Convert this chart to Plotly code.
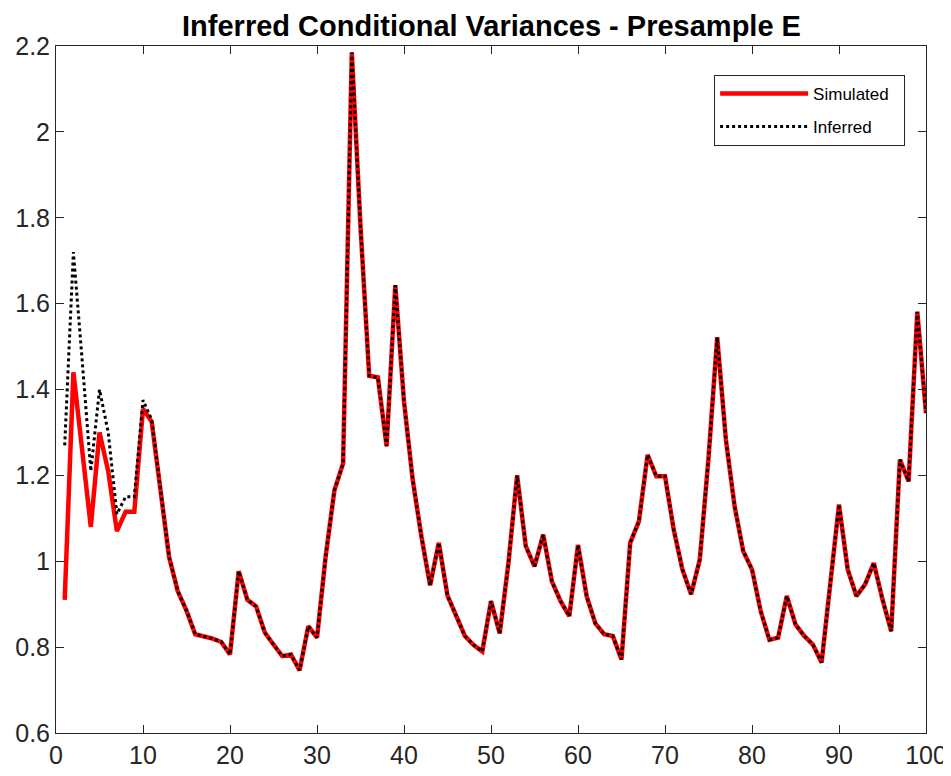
import plotly.graph_objects as go

t = list(range(1, 101))

simulated = [
    0.91, 1.44, 1.26, 1.08, 1.30, 1.21, 1.07, 1.115, 1.115, 1.355,
    1.325, 1.17, 1.01, 0.93, 0.885, 0.83, 0.825, 0.82, 0.812, 0.783,
    0.977, 0.91, 0.895, 0.834, 0.806, 0.779, 0.783, 0.746, 0.849, 0.822,
    1.012, 1.165, 1.228, 2.185, 1.78, 1.432, 1.428, 1.268, 1.643, 1.372,
    1.19, 1.058, 0.944, 1.043, 0.92, 0.875, 0.826, 0.805, 0.79, 0.907,
    0.832, 0.995, 1.2, 1.035, 0.988, 1.062, 0.953, 0.907, 0.872, 1.038,
    0.918, 0.855, 0.83, 0.826, 0.771, 1.043, 1.093, 1.248, 1.198, 1.198,
    1.074, 0.981, 0.923, 1.004, 1.24, 1.522, 1.283, 1.128, 1.023, 0.981,
    0.884, 0.817, 0.822, 0.919, 0.853, 0.826, 0.806, 0.764, 0.953, 1.132,
    0.981, 0.919, 0.946, 0.996, 0.911, 0.837, 1.237, 1.186, 1.581, 1.345,
]

inferred = [
    1.27, 1.72, 1.47, 1.21, 1.40, 1.30, 1.11, 1.15, 1.15, 1.375,
    1.33, 1.17, 1.01, 0.93, 0.885, 0.83, 0.825, 0.82, 0.812, 0.783,
    0.977, 0.91, 0.895, 0.834, 0.806, 0.779, 0.783, 0.746, 0.849, 0.822,
    1.012, 1.165, 1.228, 2.185, 1.78, 1.432, 1.428, 1.268, 1.643, 1.372,
    1.19, 1.058, 0.944, 1.043, 0.92, 0.875, 0.826, 0.805, 0.79, 0.907,
    0.832, 0.995, 1.2, 1.035, 0.988, 1.062, 0.953, 0.907, 0.872, 1.038,
    0.918, 0.855, 0.83, 0.826, 0.771, 1.043, 1.093, 1.248, 1.198, 1.198,
    1.074, 0.981, 0.923, 1.004, 1.24, 1.522, 1.283, 1.128, 1.023, 0.981,
    0.884, 0.817, 0.822, 0.919, 0.853, 0.826, 0.806, 0.764, 0.953, 1.132,
    0.981, 0.919, 0.946, 0.996, 0.911, 0.837, 1.237, 1.186, 1.581, 1.345,
]

x_ticks = list(range(0, 101, 10))
y_ticks = [0.6, 0.8, 1.0, 1.2, 1.4, 1.6, 1.8, 2.0, 2.2]
y_tick_labels = ["0.6", "0.8", "1", "1.2", "1.4", "1.6", "1.8", "2", "2.2"]

FONT = "Liberation Sans, Arial, Helvetica, sans-serif"
AX = "#262626"

# page body has an 8px default margin; figure sized to fit the window
W, H = 943, 760

fig = go.Figure()
fig.add_trace(go.Scatter(x=t, y=simulated, mode="lines", name="Simulated\u00a0\u00a0",
                         legendgroup="a",
                         line=dict(color="#ff0000", width=4.5)))
fig.add_trace(go.Scatter(x=t, y=inferred, mode="lines", name="Inferred",
                         legendgroup="b",
                         line=dict(color="#000000", width=3, dash="dot")))

fig.update_layout(
    width=W, height=H,
    margin=dict(l=48, r=25, t=38, b=35),
    paper_bgcolor="white", plot_bgcolor="white",
    font=dict(family=FONT, size=25, color=AX),
    title=dict(text="<b>Inferred Conditional Variances - Presample E</b>",
               x=483.5 / W, xanchor="center", y=1 - 17.5 / H, yanchor="middle",
               font=dict(family=FONT, size=29, color="#000000")),
    showlegend=True,
    legend=dict(x=0.976, y=0.958, xanchor="right", yanchor="top",
                bgcolor="white", bordercolor=AX, borderwidth=1,
                font=dict(family=FONT, size=17, color="#000000"),
                itemwidth=88, traceorder="grouped", tracegroupgap=8),
)
fig.update_xaxes(range=[0, 100], tickvals=x_ticks, showgrid=False, zeroline=False,
                 showline=True, linecolor=AX, linewidth=1, mirror="ticks",
                 ticks="inside", ticklen=8, tickcolor=AX, automargin=False,
                 ticklabeloverflow="allow",
                 tickfont=dict(family=FONT, size=25, color=AX))
fig.update_yaxes(range=[0.6, 2.2], tickvals=y_ticks, ticktext=y_tick_labels,
                 showgrid=False, zeroline=False, automargin=False,
                 showline=True, linecolor=AX, linewidth=1, mirror="ticks",
                 ticks="inside", ticklen=8, tickcolor=AX,
                 tickfont=dict(family=FONT, size=25, color=AX))

fig.write_html("out.html")
